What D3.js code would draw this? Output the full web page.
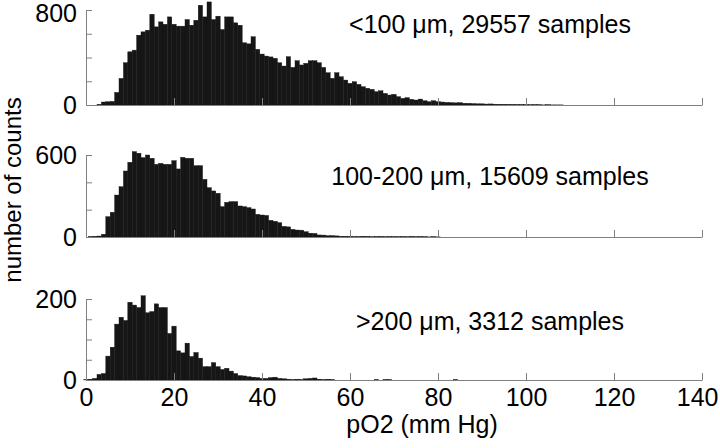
<!DOCTYPE html>
<html>
<head>
<meta charset="utf-8">
<script src="https://cdn.jsdelivr.net/npm/d3@7"></script>
<style>
  body { margin: 0; background: #fff; }
  svg { font-family: "Liberation Sans", Arial, sans-serif; }
  .axis path, .axis line { stroke: #808080; }
  .axis text { fill: #000; font-size: 25px; font-family: "Liberation Sans", Arial, sans-serif; }
</style>
</head>
<body>
<div id="chart"></div>
<script>
// histogram counts, 1 mm Hg bins, index = bin centre (mm Hg)
var counts100 = [
  0,0,0,5,25,28,30,106,224,356,
  448,462,588,616,630,764,658,700,680,742,
  680,664,664,720,672,714,840,742,868,720,
  748,636,742,742,692,672,524,515,575,469,
  429,412,405,393,356,328,407,317,373,337,
  351,373,373,356,317,272,225,272,238,210,
  183,196,174,154,141,132,112,120,98,84,
  90,70,56,62,48,42,50,36,28,36,
  28,25,22,20,18,20,15,14,12,10,
  10,8,9,7,6,6,5,5,4,4,
  3,2,3,2,1,2,1,1,1,0];

var counts100to200 = [
  0,3,5,7,20,149,181,307,368,483,
  547,625,613,581,600,576,532,539,532,532,
  559,498,583,576,576,522,522,422,361,337,
  320,222,254,259,259,227,222,215,205,166,
  161,158,122,115,105,78,74,56,51,50,
  39,28,26,15,14,10,10,8,5,5,
  4,3,3,5,4,2,3,4,2,3,
  3,2,3,2,4,2,3,2,1,2,
  1];

var counts200 = [
  1,2,4,14,16,59,81,138,155,147,
  192,185,179,208,166,169,188,179,179,115,
  133,72,67,91,58,68,54,33,33,43,
  33,26,29,22,16,11,10,8,7,6,
  4,4,6,7,4,3,2,1,2,1,
  3,4,5,2,1,2,1,0,0,0,
  0,0,0,0,0,0,1,0,1,1,
  0,0,0,0,0,0,0,0,0,0,
  0,0,0,0,1];

var panelLabels = ["<100 \u03bcm, 29557 samples", "100-200 \u03bcm, 15609 samples", ">200 \u03bcm, 3312 samples"];
var yMax  = [800, 600, 200];
var yStep = [200, 200, 50];
var xTicks = [0, 20, 40, 60, 80, 100, 120, 140];

var series = [counts100, counts100to200, counts200];

var width = 720, height = 448;
// baseline / top pixel of each panel
var panels = [
  {base: 105, top: 10,  labelY: 33},
  {base: 237, top: 155, labelY: 185},
  {base: 380, top: 299, labelY: 330}
];

var svg = d3.select("#chart").append("svg")
    .attr("width", width)
    .attr("height", height);

var x = d3.scaleLinear()
    .domain([0, 140])
    .range([86, 702]);

panels.forEach(function(p, i) {
  var data = series[i];
  var y = d3.scaleLinear()
      .domain([0, yMax[i]])
      .range([p.base, p.top]);

  var g = svg.append("g");

  g.append("g")
      .attr("class", "bars")
    .selectAll("rect")
      .data(data)
    .enter().append("rect")
      .attr("x", function(d, k) { return x(k - 0.5); })
      .attr("width", function(d, k) { return x(k + 0.5) - x(k - 0.5); })
      .attr("y", function(d) { return y(d); })
      .attr("height", function(d) { return y(0) - y(d); })
      .attr("fill", "#161616")
      .attr("stroke", "#161616")
      .attr("stroke-width", 0.4);

  var xAxis = d3.axisBottom(x)
      .tickValues(xTicks)
      .tickSize(-7)
      .tickSizeOuter(0)
      .tickPadding(8)
      .tickFormat(i === 2 ? d3.format("d") : "");

  var gx = g.append("g")
      .attr("class", "axis")
      .attr("transform", "translate(0," + p.base + ")")
      .call(xAxis);

  // last label kept inside the frame, as in the original
  gx.selectAll(".tick text")
      .filter(function(d) { return d === 140; })
      .attr("text-anchor", "end")
      .attr("dx", 16);

  var yAxis = d3.axisLeft(y)
      .tickValues(d3.range(0, yMax[i] + 1, yStep[i]))
      .tickSize(-6)
      .tickSizeOuter(0)
      .tickPadding(9)
      .tickFormat(function(d) { return (d === 0 || d === yMax[i]) ? d : ""; });

  var gy = g.append("g")
      .attr("class", "axis")
      .attr("transform", "translate(" + x(0) + ",0)")
      .call(yAxis);

  if (i === 0) {
    gy.selectAll(".tick text")
        .filter(function(d) { return d === yMax[i]; })
        .attr("dy", "0.45em");
  }

  g.append("text")
      .attr("x", 490)
      .attr("y", p.labelY)
      .attr("text-anchor", "middle")
      .style("font-size", "25px")
      .text(panelLabels[i]);
});

svg.append("text")
    .attr("x", 422)
    .attr("y", 433)
    .attr("text-anchor", "middle")
    .style("font-size", "25px")
    .text("pO2 (mm Hg)");

svg.append("text")
    .attr("transform", "translate(21,190) rotate(-90)")
    .attr("text-anchor", "middle")
    .style("font-size", "24px")
    .text("number of counts");
</script>
</body>
</html>
